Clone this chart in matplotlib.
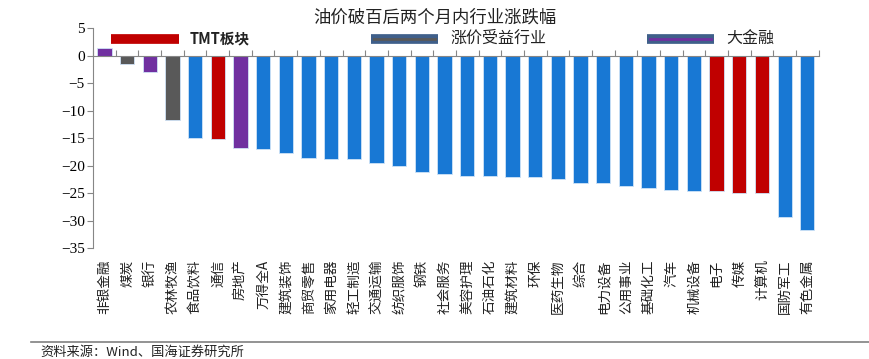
import matplotlib
matplotlib.use('Agg')
from matplotlib import pyplot as plt
from matplotlib.lines import Line2D
import numpy as np

plt.rcParams['font.family'] = ['Noto Sans CJK SC', 'DejaVu Sans']

industries = ['非银金融', '煤炭', '银行', '农林牧渔', '食品饮料', '通信', '房地产', '万得全A',
              '建筑装饰', '商贸零售', '家用电器', '轻工制造', '交通运输', '纺织服饰', '钢铁',
              '社会服务', '美容护理', '石油石化', '建筑材料', '环保', '医药生物', '综合',
              '电力设备', '公用事业', '基础化工', '汽车', '机械设备', '电子', '传媒', '计算机',
              '国防军工', '有色金属']
changes = [1.4, -1.5, -2.9, -11.7, -14.9, -15.2, -16.8, -17.0,
           -17.6, -18.5, -18.7, -18.7, -19.5, -20.1, -21.1,
           -21.5, -21.9, -21.9, -22.0, -22.0, -22.4, -23.1,
           -23.1, -23.7, -24.0, -24.4, -24.6, -24.6, -24.9, -25.0,
           -29.3, -31.7]
groups = ['fin', 'price', 'fin', 'price', 'other', 'tmt', 'fin', 'other'] + ['other'] * 19 + \
         ['tmt', 'tmt', 'tmt', 'other', 'other']

group_colors = {'other': '#1878d4', 'tmt': '#c00000', 'fin': '#7030a0', 'price': '#595959'}
legend_items = [('TMT板块', 'tmt'), ('涨价受益行业', 'price'), ('大金融', 'fin')]

fig = plt.figure(figsize=(8.7, 3.59), dpi=100)
ax = fig.add_axes([0.107, 0.308, 0.834, 0.614])

x = np.arange(len(industries))
ax.bar(x, changes, width=0.63, color=[group_colors[g] for g in groups],
       edgecolor='#cfe3f7', linewidth=0.6, zorder=2)

ax.set_xlim(-0.5, len(industries) - 0.5)
ax.set_ylim(-35, 5)
ax.set_yticks(np.arange(-35, 6, 5))
ax.tick_params(axis='y', direction='out', length=4, color='#868686', labelsize=11, pad=2)
for t in ax.get_yticklabels():
    t.set_fontfamily('Liberation Serif')

ax.spines['top'].set_visible(False)
ax.spines['right'].set_visible(False)
ax.spines['left'].set_color('#868686')
ax.spines['bottom'].set_position(('data', 0))
ax.spines['bottom'].set_color('#868686')
ax.spines['bottom'].set_zorder(3)
ax.set_xticks(np.arange(len(industries) + 1) - 0.5)
ax.set_xticklabels([])
ax.tick_params(axis='x', direction='in', length=4, color='#868686')

for i, name in enumerate(industries):
    ax.annotate(name, (i, -35), xytext=(0, -8), textcoords='offset points',
                rotation=90, ha='center', va='top', fontsize=9.8, color='#222222')

fig.text(0.5, 0.952, '油价破百后两个月内行业涨跌幅', ha='center', va='center',
         fontsize=12.5, color='#222222')

# legend, drawn like the excel one
leg_x = [(111, 179), (371, 438), (647, 714)]
for (label, g), (x0, x1) in zip(legend_items, leg_x):
    yy = 1 - 38.5 / 359
    xs = [x0 / 870, x1 / 870]
    if g == 'tmt':
        fig.add_artist(Line2D(xs, [yy, yy], color=group_colors[g], lw=7,
                              solid_capstyle='butt'))
        fig.text((x1 + 11) / 870, yy, label, ha='left', va='center', fontsize=10.5,
                 fontweight='bold', color='#222222')
    else:
        fig.add_artist(Line2D(xs, [yy, yy], color='#3f5f8a', lw=7,
                              solid_capstyle='butt'))
        fig.add_artist(Line2D([xs[0] + 0.004, xs[1] - 0.004], [yy, yy],
                              color=group_colors[g], lw=2))
        fig.text((x1 + 12) / 870, yy, label, ha='left', va='center', fontsize=11.5,
                 color='#222222')

fig.add_artist(Line2D([31 / 870, 1], [1 - 341.5 / 359] * 2, color='#808080', lw=1.2))
fig.text(40 / 870, 1 - 352 / 359, '资料来源：Wind、国海证券研究所', ha='left', va='center',
         fontsize=9.5, color='#222222')

fig.savefig('out.png', dpi=100)
